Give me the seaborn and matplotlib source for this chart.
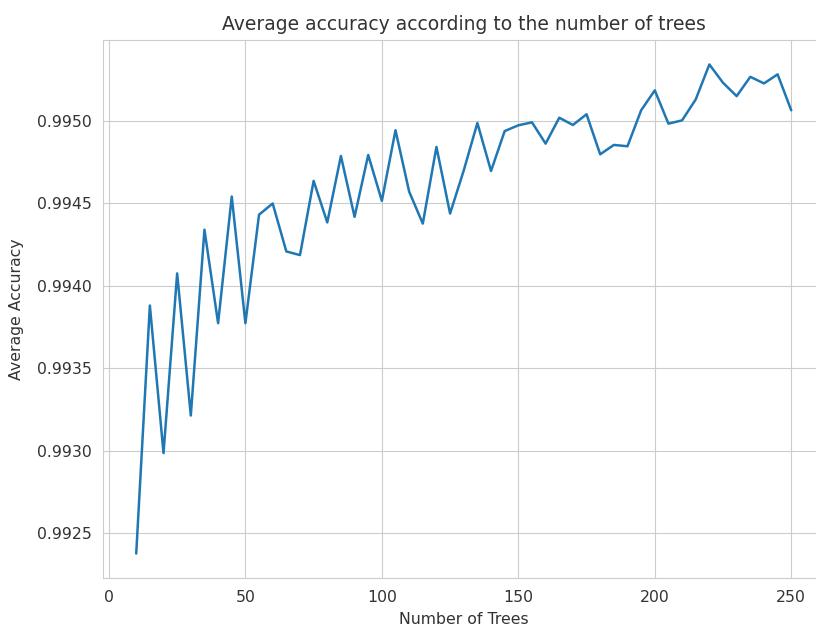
import matplotlib
matplotlib.use("Agg")
import matplotlib.pyplot as plt
import seaborn as sns
import pandas as pd

n_trees = list(range(10, 251, 5))
accuracy = [
    0.992377, 0.993881, 0.992986, 0.994076, 0.993214, 0.994341, 0.993774, 0.994542,
    0.993774, 0.994432, 0.994500, 0.994209, 0.994187, 0.994637, 0.994385, 0.994788,
    0.994419, 0.994794, 0.994516, 0.994944, 0.994572, 0.994378, 0.994843, 0.994439,
    0.994700, 0.994988, 0.994697, 0.994939, 0.994974, 0.994992, 0.994863, 0.995020,
    0.994976, 0.995041, 0.994798, 0.994855, 0.994847, 0.995065, 0.995186, 0.994984,
    0.995004, 0.995131, 0.995343, 0.995232, 0.995151, 0.995268, 0.995228, 0.995283,
    0.995065,
]
x_ticks = [0, 50, 100, 150, 200, 250]
y_ticks = [0.9925, 0.9930, 0.9935, 0.9940, 0.9945, 0.9950]

df = pd.DataFrame({"Number of Trees": n_trees, "Average Accuracy": accuracy})

sns.set_style("whitegrid")
plt.rcParams["font.family"] = ["DejaVu Sans"]

fig = plt.figure(figsize=(8.16, 6.28), dpi=100)
ax = fig.add_axes([0.1268, 0.0796, 0.883, 0.8567])
sns.lineplot(data=df, x="Number of Trees", y="Average Accuracy", ax=ax,
             color="#1f77b4", linewidth=1.8)
ax.set_title("Average accuracy according to the number of trees",
             fontsize=13.5, color=".2", pad=7)
ax.set_xlabel("Number of Trees", fontsize=11.3, color=".2", labelpad=5)
ax.set_ylabel("Average Accuracy", fontsize=11.3, color=".2", labelpad=9)
ax.tick_params(labelsize=11.3, colors=".2", pad=5)
ax.set_xticks(x_ticks)
ax.set_yticks(y_ticks)
ax.yaxis.set_major_formatter(matplotlib.ticker.FormatStrFormatter("%.4f"))
fig.savefig("out.png", dpi=100)
